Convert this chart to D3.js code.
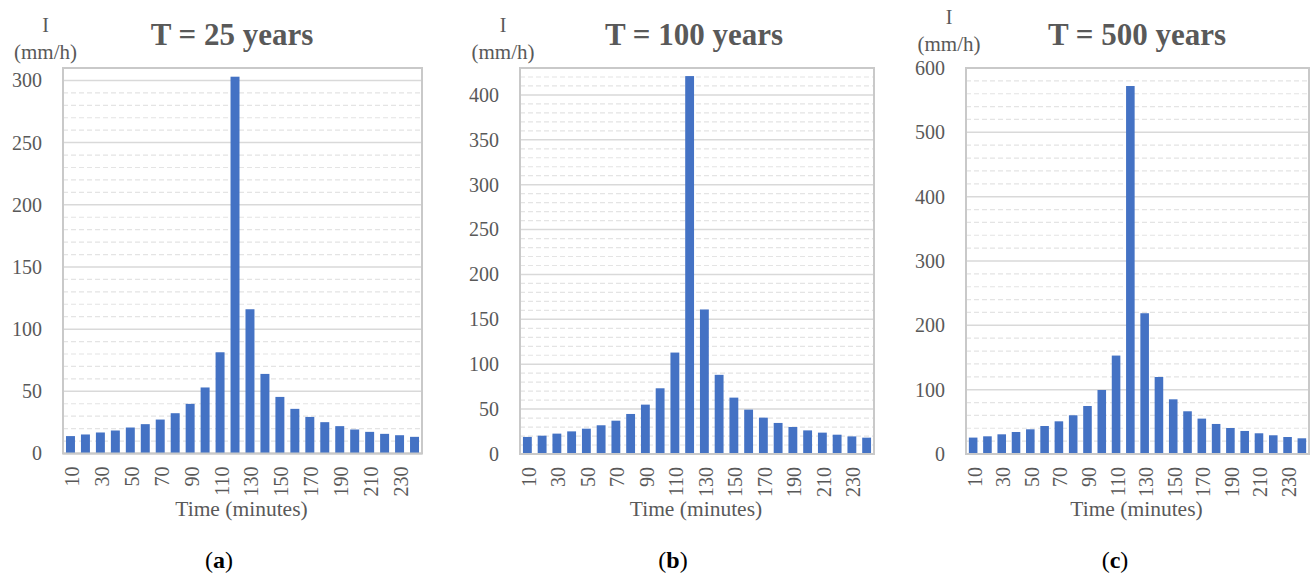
<!DOCTYPE html>
<html>
<head>
<meta charset="utf-8">
<script src="https://cdn.jsdelivr.net/npm/d3@7"></script>
<style>
  html, body { margin: 0; padding: 0; background: #ffffff; }
  svg text { font-family: "Liberation Serif", "Times New Roman", serif; }
</style>
</head>
<body>
<svg id="chart" width="1312" height="579"></svg>
<script>
// ---- Data ----
const categories = [10, 20, 30, 40, 50, 60, 70, 80, 90, 100, 110, 120,
                    130, 140, 150, 160, 170, 180, 190, 200, 210, 220, 230, 240];
const xTickLabels = [10, 30, 50, 70, 90, 110, 130, 150, 170, 190, 210, 230];

const valuesT25  = [14, 15.3, 16.9, 18.5, 20.9, 23.6, 27.3, 32.4, 39.9, 53.1, 81.4, 303,
                    116, 64, 45.5, 35.9, 29.4, 25.2, 22, 19.3, 17.4, 15.8, 14.7, 13.4];
const valuesT100 = [19, 20.4, 22.7, 25.2, 28.2, 32, 37.1, 44.6, 55, 73.2, 113, 421,
                    161, 88.2, 62.8, 49.4, 40.5, 34.6, 30.1, 26.3, 23.8, 21.5, 19.6, 18.2];
const valuesT500 = [25.5, 27.5, 30.6, 34.2, 38.4, 43.5, 50.8, 60.2, 74.6, 99.5, 153, 572,
                    218.8, 119.7, 85, 66.4, 55, 46.7, 40.4, 35.8, 32.2, 29.1, 26.4, 24.4];

const yTicksT25  = [0, 50, 100, 150, 200, 250, 300];
const yTicksT100 = [0, 50, 100, 150, 200, 250, 300, 350, 400];
const yTicksT500 = [0, 100, 200, 300, 400, 500, 600];

const titles   = ["T = 25 years", "T = 100 years", "T = 500 years"];
const captions = ["a", "b", "c"];
const yLabelTop = "I";
const yLabelUnit = "(mm/h)";
const xTitle = "Time (minutes)";

// ---- Layout (styles / positions only) ----
const panels = [
  { values: valuesT25,  ticks: yTicksT25,  max: 310, minor: 10, left: 63,  right: 422,  top: 68, bottom: 453.5,
    titleX: 232, axLabX: 45.5, axLabY1: 32, axLabY2: 59, capX: 219 },
  { values: valuesT100, ticks: yTicksT100, max: 430, minor: 10, left: 520, right: 874,  top: 68, bottom: 454,
    titleX: 694, axLabX: 503,  axLabY1: 32, axLabY2: 59, capX: 673 },
  { values: valuesT500, ticks: yTicksT500, max: 600, minor: 20, left: 966, right: 1309, top: 68, bottom: 454,
    titleX: 1137, axLabX: 949, axLabY1: 24, axLabY2: 51, capX: 1115 }
];

const textColor = "#595959";
const barColor = "#4472C4";

const svg = d3.select("#chart");

panels.forEach((p, i) => {
  const g = svg.append("g");
  const x = d3.scaleBand().domain(categories).range([p.left, p.right])
              .paddingInner(0.4).paddingOuter(0.2);
  const y = d3.scaleLinear().domain([0, p.max]).range([p.bottom, p.top]);

  // minor gridlines
  const minorVals = d3.range(0, p.max + 0.001, p.minor).filter(v => !p.ticks.includes(v) && v !== 0 && v < p.max);
  g.append("g").selectAll("line").data(minorVals).join("line")
    .attr("x1", p.left).attr("x2", p.right)
    .attr("y1", d => y(d)).attr("y2", d => y(d))
    .attr("stroke", "#e4e4e4").attr("stroke-width", 1.2)
    .attr("stroke-dasharray", "5,3");

  // major gridlines
  g.append("g").selectAll("line").data(p.ticks.filter(v => v > 0 && v < p.max)).join("line")
    .attr("x1", p.left).attr("x2", p.right)
    .attr("y1", d => y(d)).attr("y2", d => y(d))
    .attr("stroke", "#d9d9d9").attr("stroke-width", 1.5);

  // plot border
  g.append("rect")
    .attr("x", p.left).attr("y", p.top)
    .attr("width", p.right - p.left).attr("height", p.bottom - p.top)
    .attr("fill", "none").attr("stroke", "#c9c9c9").attr("stroke-width", 2);

  // bars
  g.append("g").selectAll("rect").data(categories).join("rect")
    .attr("x", (d) => x(d))
    .attr("width", x.bandwidth())
    .attr("y", (d, j) => y(p.values[j]))
    .attr("height", (d, j) => y(0) - y(p.values[j]))
    .attr("fill", barColor);

  // bottom axis line
  g.append("line")
    .attr("x1", p.left).attr("x2", p.right)
    .attr("y1", y(0)).attr("y2", y(0))
    .attr("stroke", "#c9c9c9").attr("stroke-width", 2);

  // y axis tick labels
  const yAxis = d3.axisLeft(y).tickValues(p.ticks).tickSize(0).tickPadding(21)
                  .tickFormat(d3.format("d"));
  const ya = g.append("g").attr("transform", `translate(${p.left},0)`).call(yAxis);
  ya.select(".domain").remove();
  ya.selectAll("text").attr("font-size", 20).attr("fill", textColor)
    .attr("font-family", "Liberation Serif");

  // x axis tick labels (rotated)
  const xAxis = d3.axisBottom(x).tickValues(xTickLabels).tickSize(0);
  const xa = g.append("g").attr("transform", `translate(0,${p.bottom})`).call(xAxis);
  xa.select(".domain").remove();
  xa.selectAll("text")
    .attr("font-size", 20).attr("fill", textColor)
    .attr("font-family", "Liberation Serif")
    .attr("text-anchor", "end")
    .attr("dominant-baseline", "central")
    .attr("transform", "translate(1.5,13) rotate(-90)")
    .attr("x", 0).attr("y", 0).attr("dy", null);

  // title
  g.append("text").attr("x", p.titleX).attr("y", 45)
    .attr("text-anchor", "middle").attr("font-size", 31).attr("font-weight", "bold")
    .attr("fill", textColor).text(titles[i]);

  // y axis label
  g.append("text").attr("x", p.axLabX).attr("y", p.axLabY1)
    .attr("text-anchor", "middle").attr("font-size", 20).attr("fill", textColor).text(yLabelTop);
  g.append("text").attr("x", p.axLabX).attr("y", p.axLabY2)
    .attr("text-anchor", "middle").attr("font-size", 21).attr("fill", textColor).text(yLabelUnit);

  // x axis title
  g.append("text").attr("x", (p.left + p.right) / 2 - 1).attr("y", 516)
    .attr("text-anchor", "middle").attr("font-size", 21.5).attr("fill", textColor).text(xTitle);

  // caption
  const cap = g.append("text").attr("x", p.capX).attr("y", 568)
    .attr("text-anchor", "middle").attr("font-size", 24).attr("fill", "#000000");
  cap.append("tspan").text("(");
  cap.append("tspan").attr("font-weight", "bold").text(captions[i]);
  cap.append("tspan").text(")");
});
</script>
</body>
</html>
